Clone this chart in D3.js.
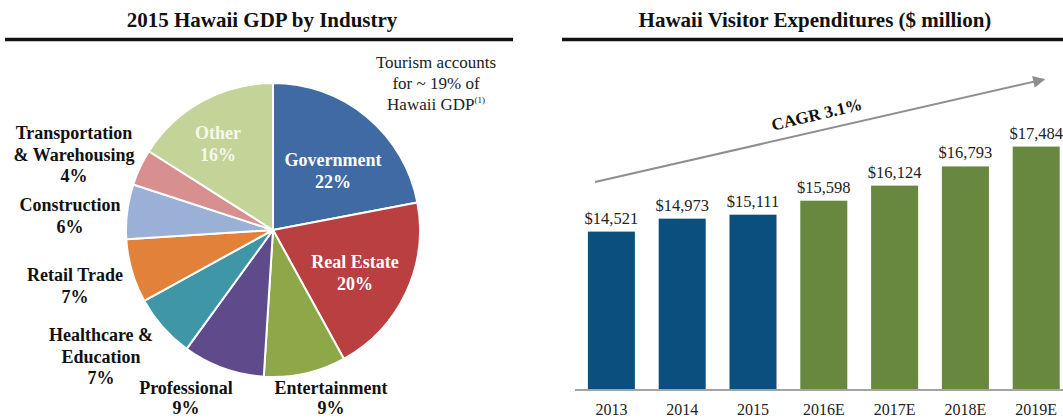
<!DOCTYPE html>
<html>
<head>
<meta charset="utf-8">
<script src="https://cdn.jsdelivr.net/npm/d3@7"></script>
<style>
  html, body { margin: 0; padding: 0; background: #fff; }
  svg { display: block; }
  text { font-family: "Liberation Serif", "Times New Roman", serif; }
</style>
</head>
<body>
<svg id="chart" width="1063" height="419"></svg>
<script>
// ---------------- DATA ----------------
const industries = ["Government", "Real Estate", "Entertainment", "Professional",
  "Healthcare & Education", "Retail Trade", "Construction",
  "Transportation & Warehousing", "Other"];
const industryShares = [22, 20, 9, 9, 7, 7, 6, 4, 16];
const industryLabelLines = [
  ["Government", "22%"],
  ["Real Estate", "20%"],
  ["Entertainment", "9%"],
  ["Professional", "9%"],
  ["Healthcare &", "Education", "7%"],
  ["Retail Trade", "7%"],
  ["Construction", "6%"],
  ["Transportation", "& Warehousing", "4%"],
  ["Other", "16%"]
];
const years = ["2013", "2014", "2015", "2016E", "2017E", "2018E", "2019E"];
const expenditures = [14521, 14973, 15111, 15598, 16124, 16793, 17484];
const isEstimate = [false, false, false, true, true, true, true];
const valueLabels = ["$14,521", "$14,973", "$15,111", "$15,598", "$16,124", "$16,793", "$17,484"];
const cagrLabel = "CAGR 3.1%";
const noteLines = ["Tourism accounts", "for ~ 19% of", "Hawaii GDP"];

// ---------------- STYLE / LAYOUT ----------------
const sliceColors = ["#3F6AA4", "#B93F41", "#8EA748", "#5F4A8B", "#3F96A7",
  "#E2813A", "#9BB0D7", "#D78F90", "#C4D398"];
const insideLabel = [true, true, false, false, false, false, false, false, true];
// label anchor (center x, first-line baseline, line height) relative to pie center
const labelOffsets = [
  {dx: 60, dy: -64, lh: 21.5}, {dx: 82, dy: 38, lh: 21.5}, {dx: 58, dy: 164, lh: 20},
  {dx: -87, dy: 164, lh: 20}, {dx: -172, dy: 111, lh: 21.5}, {dx: -198, dy: 51, lh: 21.5},
  {dx: -203, dy: -19, lh: 21.5}, {dx: -199, dy: -91, lh: 21.5}, {dx: -55, dy: -91, lh: 21.5}
];

const svg = d3.select("#chart");

// titles and rules
svg.append("text").attr("x", 262).attr("y", 27).attr("text-anchor", "middle")
  .attr("font-size", 21).attr("font-weight", "bold").attr("fill", "#111")
  .text("2015 Hawaii GDP by Industry");
svg.append("text").attr("x", 815).attr("y", 27).attr("text-anchor", "middle")
  .attr("font-size", 21).attr("font-weight", "bold").attr("fill", "#111")
  .text("Hawaii Visitor Expenditures ($ million)");
svg.append("line").attr("x1", 5).attr("x2", 513).attr("y1", 39.5).attr("y2", 39.5)
  .attr("stroke", "#111").attr("stroke-width", 3.5);
svg.append("line").attr("x1", 562).attr("x2", 1063).attr("y1", 39.5).attr("y2", 39.5)
  .attr("stroke", "#111").attr("stroke-width", 3.5);

// ---------------- PIE ----------------
const cx = 273, cy = 230, R = 147;
const pieData = industries.map((name, i) => ({name, value: industryShares[i], i}));
const pie = d3.pie().sort(null).value(d => d.value).startAngle(0).endAngle(2 * Math.PI);
const arc = d3.arc().innerRadius(0).outerRadius(R);
const gPie = svg.append("g").attr("transform", `translate(${cx},${cy})`);
gPie.selectAll("path").data(pie(pieData)).join("path")
  .attr("d", arc)
  .attr("fill", d => sliceColors[d.data.i])
  .attr("stroke", "#fff").attr("stroke-width", 2).attr("stroke-linejoin", "round");

pieData.forEach((d, i) => {
  const off = labelOffsets[i];
  const t = gPie.append("text")
    .attr("text-anchor", "middle")
    .attr("font-size", 18).attr("font-weight", "bold")
    .attr("fill", insideLabel[i] ? (i === 8 ? "#f6f7ee" : "#ffffff") : "#111");
  industryLabelLines[i].forEach((line, k) => {
    t.append("tspan").attr("x", off.dx).attr("y", off.dy + k * off.lh).text(line);
  });
});

// note
const note = svg.append("text").attr("text-anchor", "middle")
  .attr("font-size", 17).attr("fill", "#222");
noteLines.forEach((line, k) => {
  const ts = note.append("tspan").attr("x", 436).attr("y", 68 + k * 21).text(line);
  if (k === noteLines.length - 1) {
    ts.append("tspan").attr("font-size", 9).attr("dy", -7).text("(1)");
  }
});

// ---------------- BARS ----------------
const x = d3.scaleBand().domain(years).range([576, 1071.6])
  .paddingInner(0.336).paddingOuter(0.168);
const y = d3.scaleLinear().domain([9000, 18000]).range([390, 131.8]);

const gBars = svg.append("g");
gBars.selectAll("rect").data(years).join("rect")
  .attr("x", d => x(d))
  .attr("width", x.bandwidth())
  .attr("y", (d, i) => y(expenditures[i]))
  .attr("height", (d, i) => y(9000) - y(expenditures[i]))
  .attr("fill", (d, i) => isEstimate[i] ? "#68873F" : "#0B4F7F");

gBars.selectAll("text.val").data(years).join("text")
  .attr("class", "val")
  .attr("x", d => x(d) + x.bandwidth() / 2)
  .attr("y", (d, i) => y(expenditures[i]) - 8)
  .attr("text-anchor", "middle")
  .attr("font-size", 16.5).attr("fill", "#222")
  .text((d, i) => valueLabels[i]);

const axis = svg.append("g").attr("transform", "translate(0,390)")
  .call(d3.axisBottom(x).tickSize(0).tickPadding(14));
axis.select(".domain").attr("stroke", "#a3a3a3").attr("stroke-width", 2)
  .attr("d", "M575,0H1063");
axis.selectAll("text").attr("font-family", "Liberation Serif, Times New Roman, serif")
  .attr("font-size", 16).attr("fill", "#222");

// CAGR arrow
const ax1 = 595, ay1 = 182, ax2 = 1050, ay2 = 78;
const defs = svg.append("defs");
defs.append("marker").attr("id", "ah").attr("viewBox", "0 0 10 10")
  .attr("refX", 9).attr("refY", 5).attr("markerWidth", 7).attr("markerHeight", 6)
  .attr("markerUnits", "strokeWidth").attr("orient", "auto")
  .append("path").attr("d", "M0,0L10,5L0,10Z").attr("fill", "#8f8f8f");
svg.append("line").attr("x1", ax1).attr("y1", ay1).attr("x2", ax2 - 6).attr("y2", ay2 + 1.4)
  .attr("stroke", "#8f8f8f").attr("stroke-width", 2).attr("marker-end", "url(#ah)");
const ang = Math.atan2(ay2 - ay1, ax2 - ax1) * 180 / Math.PI;
svg.append("text").attr("transform", `translate(818,120) rotate(${ang - 0.5})`)
  .attr("text-anchor", "middle").attr("font-size", 17).attr("font-weight", "bold")
  .attr("fill", "#111").text(cagrLabel);
</script>
</body>
</html>
